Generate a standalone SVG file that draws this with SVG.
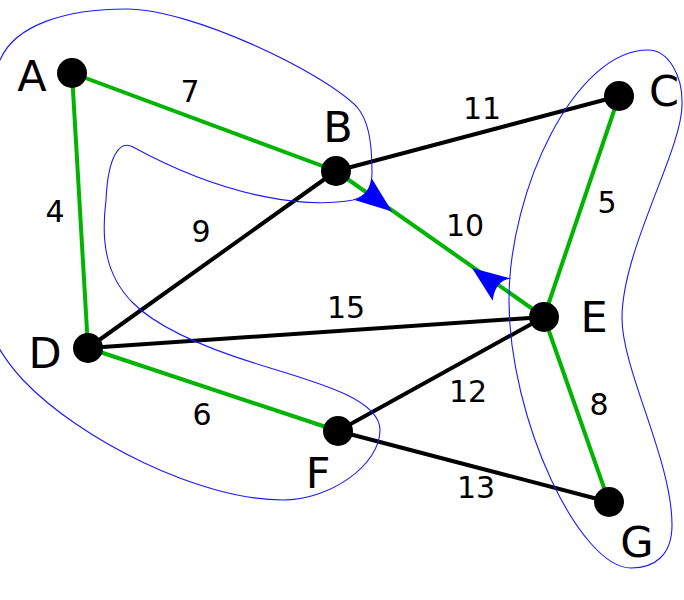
<svg xmlns="http://www.w3.org/2000/svg" width="684" height="600" viewBox="0 0 684 600">
<style>
.edge{fill:none;stroke-width:4;stroke-linecap:round}
.tree{stroke:#00b400}
.other{stroke:#000}
.cut{fill:none;stroke:#1a1aff;stroke-width:1.1}
.arrow{fill:#0000ff;stroke:none}
.node circle{fill:#000}
.nlabel{font-family:"DejaVu Sans",sans-serif;font-size:43px;fill:#000;text-anchor:middle}
.wlabel{font-family:"DejaVu Sans",sans-serif;font-size:30px;fill:#000;text-anchor:middle}
</style>
<rect width="684" height="600" fill="#fff"/>
<g id="connectors">
<line class="edge tree" x1="72" y1="73" x2="336" y2="171"/>
<line class="edge tree" x1="72" y1="73" x2="88" y2="348"/>
<line class="edge tree" x1="336" y1="171" x2="544" y2="317"/>
<line class="edge tree" x1="619" y1="96" x2="544" y2="317"/>
<line class="edge tree" x1="544" y1="317" x2="609" y2="502"/>
<line class="edge tree" x1="88" y1="348" x2="338" y2="431"/>
<line class="edge other" x1="336" y1="171" x2="619" y2="96"/>
<line class="edge other" x1="336" y1="171" x2="88" y2="348"/>
<line class="edge other" x1="88" y1="348" x2="544" y2="317"/>
<line class="edge other" x1="338" y1="431" x2="544" y2="317"/>
<line class="edge other" x1="338" y1="431" x2="609" y2="502"/>
</g>
<g id="cuts">
<path class="cut" d="M 0,60 C 15,25 65,9 127,9 C 190,9 320,70 357,107 C 368,120 372,140 372,173 C 372,188 365,197 353,200 C 310,208 230,200 133,147 C 120,140 108,155 106,200 C 101,240 105,275 133,303 C 160,330 210,350 267,367 C 320,383 380,400 380,430 C 380,465 330,500 283,500 C 200,500 80,440 23,380 C 8,364 -5,345 -15,320 C -40,250 -25,100 0,60 Z"/>
<path class="cut" d="M 648,50 C 668,50 683,75 682,105 C 682,150 622,250 622,318 C 622,370 672,460 672,525 C 672,555 655,568 631,568 C 580,568 509,420 509,300 C 509,190 575,50 648,50 Z"/>
</g>
<g id="arrows">
<path class="arrow" d="M 392,211.5 L 371.5,178 Q 370.4,194.4 354.5,200 Z"/>
<path class="arrow" d="M 472,268 L 511.3,278.7 Q 495.4,279.7 492.7,300.7 Z"/>
</g>
<g id="weights">
<text class="wlabel" x="190" y="102">7</text>
<text class="wlabel" x="482" y="119">11</text>
<text class="wlabel" x="55" y="222">4</text>
<text class="wlabel" x="201" y="242">9</text>
<text class="wlabel" x="465" y="236">10</text>
<text class="wlabel" x="607" y="213">5</text>
<text class="wlabel" x="346" y="318">15</text>
<text class="wlabel" x="468" y="402">12</text>
<text class="wlabel" x="202" y="425">6</text>
<text class="wlabel" x="599" y="415">8</text>
<text class="wlabel" x="476" y="498">13</text>
</g>
<g id="node-A" class="node"><circle cx="72" cy="73" r="15"/><text class="nlabel" x="32" y="91">A</text></g>
<g id="node-B" class="node"><circle cx="336" cy="171" r="15"/><text class="nlabel" x="338" y="142">B</text></g>
<g id="node-C" class="node"><circle cx="619" cy="96" r="15"/><text class="nlabel" x="664" y="106">C</text></g>
<g id="node-D" class="node"><circle cx="88" cy="348" r="15"/><text class="nlabel" x="45" y="368">D</text></g>
<g id="node-E" class="node"><circle cx="544" cy="317" r="15"/><text class="nlabel" x="594" y="332">E</text></g>
<g id="node-F" class="node"><circle cx="338" cy="431" r="15"/><text class="nlabel" x="318" y="488">F</text></g>
<g id="node-G" class="node"><circle cx="609" cy="502" r="15"/><text class="nlabel" x="637" y="557">G</text></g>
</svg>
